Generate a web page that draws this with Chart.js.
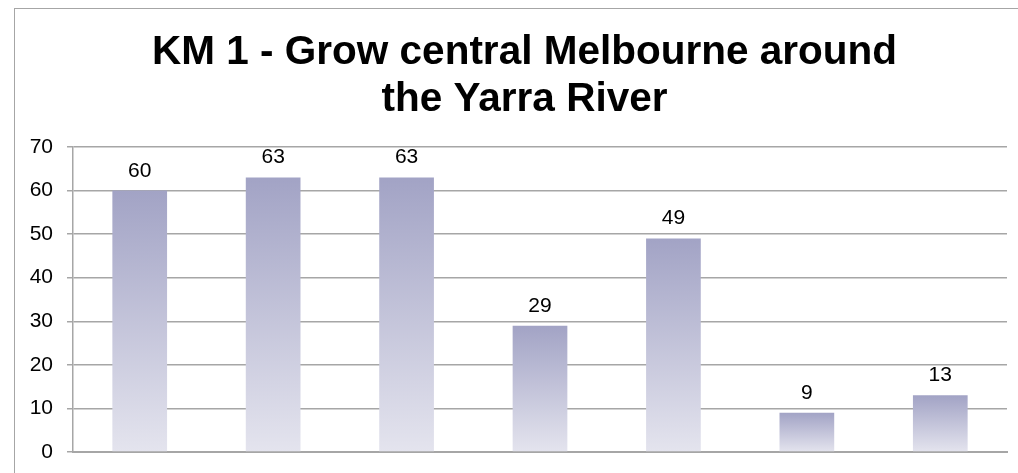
<!DOCTYPE html>
<html>
<head>
<meta charset="utf-8">
<script src="https://cdn.jsdelivr.net/npm/chart.js@4/dist/chart.umd.min.js"></script>
<style>
    html, body { margin: 0; padding: 0; background: #fff; overflow: hidden; }
    #frame {
        position: absolute;
        left: 14px;
        top: 8px;
        width: 1020px;
        height: 464px;
        border-top: 1px solid #a6a6a6;
        border-left: 1px solid #a6a6a6;
    }
</style>
</head>
<body>
<div id="frame"><canvas id="kmChart" width="1020" height="464"></canvas></div>
<script>
const categories = ['1', '2', '3', '4', '5', '6', '7'];
const values = [60, 63, 63, 29, 49, 9, 13];
const yTicks = [0, 10, 20, 30, 40, 50, 60, 70];
const titleLines = ['KM 1 - Grow central Melbourne around', 'the Yarra River'];

const FONT = "'Liberation Sans', Arial, sans-serif";

// Vertical gradient per bar, from its top down to the zero line
function barFill(ctx) {
    const chart = ctx.chart;
    const area = chart.chartArea;
    if (!area || ctx.dataIndex === undefined) return '#b8b9d4';
    const y = chart.scales.y;
    const top = y.getPixelForValue(values[ctx.dataIndex]);
    const bottom = y.getPixelForValue(0);
    const g = chart.ctx.createLinearGradient(0, top, 0, bottom);
    g.addColorStop(0, '#a2a3c5');
    g.addColorStop(1, '#e4e4ee');
    return g;
}

// Value labels above each bar
const valueLabels = {
    id: 'valueLabels',
    afterDatasetsDraw(chart) {
        const c = chart.ctx;
        const meta = chart.getDatasetMeta(0);
        c.save();
        c.font = '21px ' + FONT;
        c.fillStyle = '#000';
        c.textAlign = 'center';
        c.textBaseline = 'alphabetic';
        meta.data.forEach((bar, i) => {
            c.fillText(String(values[i]), bar.x, bar.y - 14);
        });
        c.restore();
    }
};

new Chart(document.getElementById('kmChart'), {
    type: 'bar',
    data: {
        labels: categories,
        datasets: [{
            data: values,
            backgroundColor: barFill,
            borderWidth: 0,
            categoryPercentage: 1,
            barPercentage: 0.41
        }]
    },
    options: {
        responsive: false,
        animation: false,
        layout: { padding: { left: 0, right: 1, top: 0, bottom: 21 } },
        plugins: {
            legend: { display: false },
            tooltip: { enabled: false },
            title: {
                display: true,
                text: titleLines,
                color: '#000',
                font: { family: FONT, size: 40.5, weight: 'bold', lineHeight: 1.16 },
                padding: { top: 20, bottom: 24 }
            }
        },
        scales: {
            x: {
                ticks: { display: false },
                grid: { display: false },
                border: { display: true, color: '#a6a6a6', width: 2 },
                afterFit(scale) { scale.height = 0; }
            },
            y: {
                min: 0,
                max: 70,
                afterBuildTicks(scale) { scale.ticks = yTicks.map(v => ({ value: v })); },
                ticks: {
                    color: '#000',
                    padding: 14,
                    font: { family: FONT, size: 21 }
                },
                grid: { color: '#a6a6a6', lineWidth: 1.5, tickLength: 6 },
                border: { display: true, color: '#a6a6a6', width: 1.5 },
                afterFit(scale) {
                    scale.width = 58;
                    scale.paddingTop = 0;
                    scale.paddingBottom = 0;
                }
            },
            // empty spacer on the right so the title centres like the original
            spacer: {
                type: 'linear',
                position: 'right',
                ticks: { display: false },
                grid: { display: false },
                border: { display: false },
                afterFit(scale) {
                    scale.width = 27;
                    scale.paddingTop = 0;
                    scale.paddingBottom = 0;
                }
            }
        }
    },
    plugins: [valueLabels]
});
</script>
</body>
</html>
